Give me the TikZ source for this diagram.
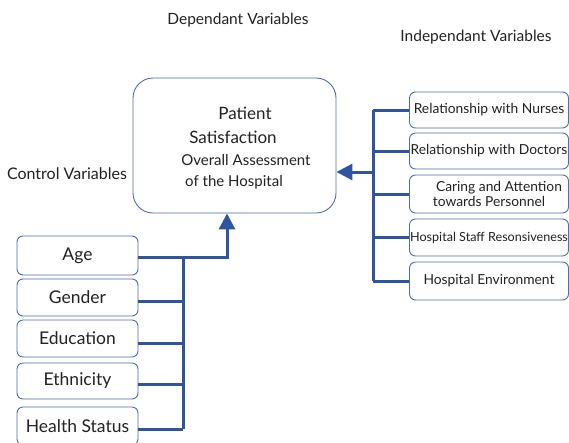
\documentclass[tikz,border=0pt]{standalone}
\usepackage{fontspec}
\setmainfont{Lato}
\usetikzlibrary{arrows.meta}
\definecolor{boxc}{HTML}{4A6DB4}
\definecolor{linec}{HTML}{2F55A2}
\definecolor{txtc}{HTML}{222222}
\tikzset{
  box/.style={draw=boxc, line width=0.9pt, rounded corners=6pt, inner sep=0pt, text=txtc, align=center},
  mainbox/.style={draw=boxc, line width=0.9pt, rounded corners=20pt, minimum width=203pt, minimum height=135pt},
  rbox/.style={box, minimum width=159pt, minimum height=36pt, font=\fontsize{13.8}{15.5}\selectfont},
  lbox/.style={box, minimum width=121pt, minimum height=37pt, font=\fontsize{17.5}{19}\selectfont},
  lab/.style={text=txtc, inner sep=0pt, font=\fontsize{15.5}{17}\selectfont},
  conn/.style={draw=linec, line width=3pt},
  tip/.style={-{Triangle[length=16pt,width=16pt]}}
}
\begin{document}
\begin{tikzpicture}[x=1pt,y=-1pt]
\clip (0,0) rectangle (569,442);
\fill[white] (0,0) rectangle (569,442);
% labels
\node[lab] (dep) at (238,20) {Dependant Variables};
\node[lab] (ind) at (476,37) {Independant Variables};
\node[lab, font=\fontsize{16}{18}\selectfont] (ctl) at (67,174) {Control Variables};
% main box
\node[mainbox] (main) at (234.5,145.5) {};
\node[lab, font=\fontsize{17}{19}\selectfont] (t1) at (245,113) {Patient};
\node[lab, font=\fontsize{17}{19}\selectfont] (t2) at (233,137) {Satisfaction};
\node[lab, font=\fontsize{15}{17}\selectfont] (t3) at (246,160) {Overall Assessment};
\node[lab, font=\fontsize{15}{17}\selectfont] (t4) at (234,182) {of the Hospital};
% right boxes
\node[rbox] (r1) at (489,110) {Relationship with Nurses};
\node[rbox] (r2) at (489,151) {Relationship with Doctors};
\node[rbox, minimum height=38pt] (r3) at (489,194) {\hspace*{20pt}Caring and Attention\\[0pt]towards Personnel};
\node[rbox, minimum height=37pt, font=\fontsize{12.6}{15}\selectfont] (r4) at (489,237.5) {Hospital Staff Resonsiveness};
\node[rbox, minimum height=38pt] (r5) at (489,281) {Hospital Environment};
% right connectors
\coordinate (rbt) at (373,110);
\coordinate (rbb) at (373,281);
\coordinate (rba) at (373,172);
\draw[conn] (rbt) -- (rbb);
\foreach \b in {r1,r2,r3,r4,r5} \draw[conn] (rbt |- \b.west) -- (\b.west);
\draw[conn,tip] (rba) -- (rba -| main.east);
% left boxes
\node[lbox, minimum height=39pt] (l1) at (77.5,255.5) {Age};
\node[lbox] (l2) at (77.5,297.5) {Gender};
\node[lbox] (l3) at (77.5,338.5) {Education};
\node[lbox, minimum height=36pt] (l4) at (77.5,381) {Ethnicity};
\node[lbox, minimum height=38pt] (l5) at (77.5,426) {Health Status};
% left connectors
\coordinate (lbt) at (183,257);
\coordinate (lbb) at (183,429);
\coordinate (up) at (227,257);
\draw[conn] (lbt) -- (lbb);
\draw[conn] (l2.east |- 0,301) -- (lbt |- 0,301);
\draw[conn] (l3.east |- 0,343) -- (lbt |- 0,343);
\draw[conn] (l4.east |- 0,384) -- (lbt |- 0,384);
\draw[conn] (l5.east |- 0,429) -- (lbb);
\draw[conn,tip] (l1.east |- up) -- (up) -- (up |- main.south);
\end{tikzpicture}
\end{document}
